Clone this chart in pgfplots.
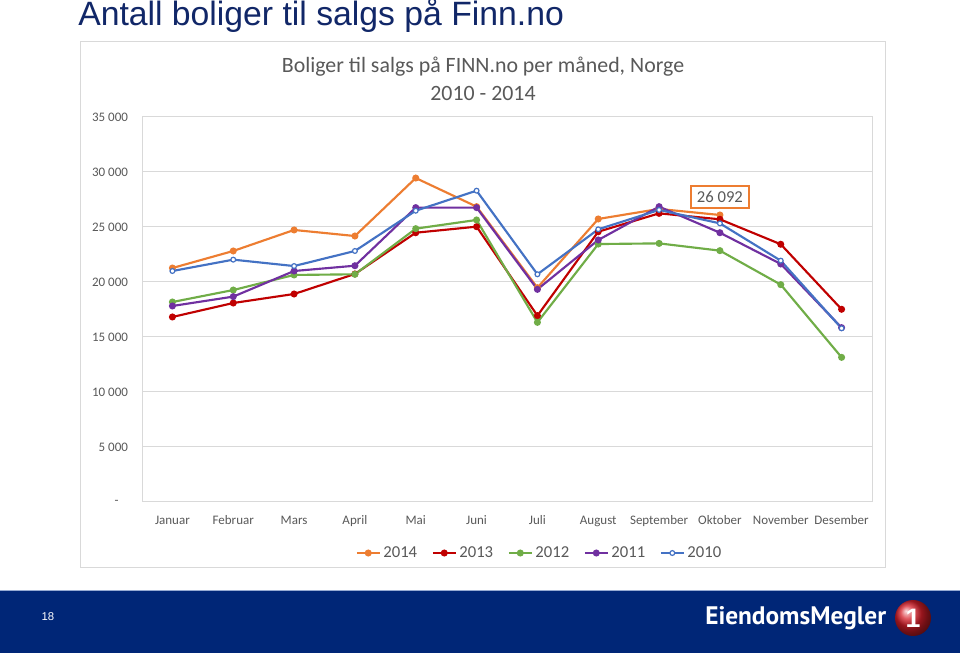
\documentclass[border=0pt]{standalone}
\usepackage{pgfplots}
\pgfplotsset{compat=1.18}
\usepackage{fontspec}
\setmainfont{Liberation Sans}
\newfontfamily\carlito{Carlito}
\newfontfamily\ptsans{PT Sans}
\definecolor{c14}{RGB}{237,125,49}
\definecolor{c13}{RGB}{192,0,0}
\definecolor{c12}{RGB}{112,173,71}
\definecolor{c11}{RGB}{112,48,160}
\definecolor{c10}{RGB}{68,114,196}
\definecolor{labelgray}{RGB}{89,89,89}
\definecolor{gridgray}{RGB}{217,217,217}
\definecolor{navy}{RGB}{17,39,104}
\definecolor{barblue}{RGB}{0,38,119}
\definecolor{barline}{RGB}{150,170,210}
\definecolor{logored}{RGB}{214,30,40}
\begin{document}
\begin{tikzpicture}
\useasboundingbox (0,0) rectangle (720pt,489.75pt);
\fill[white] (0,0) rectangle (720pt,489.75pt);
% slide title
\node[anchor=base west, inner sep=0pt, text=navy, font=\fontsize{25.3}{30}\selectfont] at (58.5pt,470.25pt) {Antall boliger til salgs på Finn.no};
% chart box
\draw[gridgray, line width=0.75pt] (60pt,63.75pt) rectangle (663.75pt,458.25pt);
\node[text=labelgray, font=\fontsize{16.4}{18}\selectfont\carlito] at (362.25pt,440pt) {Boliger til salgs på FINN.no per måned, Norge};
\node[text=labelgray, font=\fontsize{16.4}{18}\selectfont\carlito] at (362.25pt,420pt) {2010 - 2014};
% bottom bar
\fill[barblue] (0,0) rectangle (720pt,47.25pt);
\draw[barline, line width=0.6pt] (0,47.25pt) -- (720pt,47.25pt);
\node[text=white, font=\fontsize{8.5}{10}\selectfont] at (36pt,27pt) {18};
\node[anchor=west, inner sep=0pt, text=white, font=\fontsize{19}{22}\selectfont\ptsans\bfseries] at (528.75pt,26.25pt) {EiendomsMegler};
\shade[ball color=logored] (684.75pt,26.25pt) circle (13.5pt);
\node[text=white, font=\fontsize{20}{22}\selectfont\bfseries] at (684.75pt,26.25pt) {1};
% axis
\begin{axis}[
  at={(106.5pt,113.25pt)}, anchor=south west,
  scale only axis, width=547.5pt, height=288.75pt,
  xmin=-0.5, xmax=11.5, ymin=0, ymax=35000,
  scaled y ticks=false,
  xtick={0,...,11},
  xticklabels={Januar,Februar,Mars,April,Mai,Juni,Juli,August,September,Oktober,November,Desember},
  ytick={0,5000,10000,15000,20000,25000,30000,35000},
  yticklabels={-\hspace*{7pt},5 000,10 000,15 000,20 000,25 000,30 000,35 000},
  ymajorgrids,
  grid style={gridgray, line width=0.75pt},
  axis line style={gridgray, line width=0.75pt},
  major tick length=0pt,
  tick label style={font=\fontsize{9.75}{12}\selectfont\carlito, text=labelgray},
  yticklabel style={xshift=-7pt},
  xticklabel style={yshift=-5pt, text height=1.6ex, text depth=0.3ex},
  legend style={at={(rel axis cs:0.545,-0.1325)}, anchor=center, draw=none, fill=none,
    legend columns=-1, font=\fontsize{12.5}{15}\selectfont\carlito, text=labelgray,
    /tikz/every even column/.append style={column sep=9pt}},
  every axis plot/.append style={line width=1.6pt, mark size=1.8pt},
]
\addplot[c14, mark=*] coordinates {(0,21270)(1,22820)(2,24730)(3,24180)(4,29450)(5,26850)(6,19480)(7,25730)(8,26640)(9,26092)};
\addlegendentry{2014}
\addplot[c13, mark=*] coordinates {(0,16820)(1,18090)(2,18910)(3,20730)(4,24480)(5,25030)(6,16940)(7,24570)(8,26240)(9,25700)(10,23430)(11,17520)};
\addlegendentry{2013}
\addplot[c12, mark=*] coordinates {(0,18180)(1,19270)(2,20640)(3,20700)(4,24850)(5,25640)(6,16330)(7,23450)(8,23510)(9,22850)(10,19760)(11,13150)};
\addlegendentry{2012}
\addplot[c11, mark=*] coordinates {(0,17820)(1,18670)(2,21000)(3,21480)(4,26760)(5,26760)(6,19330)(7,23820)(8,26850)(9,24480)(10,21640)(11,15850)};
\addlegendentry{2011}
\addplot[c10, mark=*, mark options={fill=white, line width=0.9pt}] coordinates {(0,21000)(1,22030)(2,21450)(3,22820)(4,26480)(5,28300)(6,20700)(7,24790)(8,26550)(9,25330)(10,21940)(11,15790)};
\addlegendentry{2010}
\node[draw=c14, line width=0.9pt, fill=white, text=labelgray, inner xsep=4.5pt, inner ysep=4pt, font=\fontsize{12.5}{15}\selectfont\carlito] at (axis cs:9,27730) {26 092};
\end{axis}
\end{tikzpicture}
\end{document}
